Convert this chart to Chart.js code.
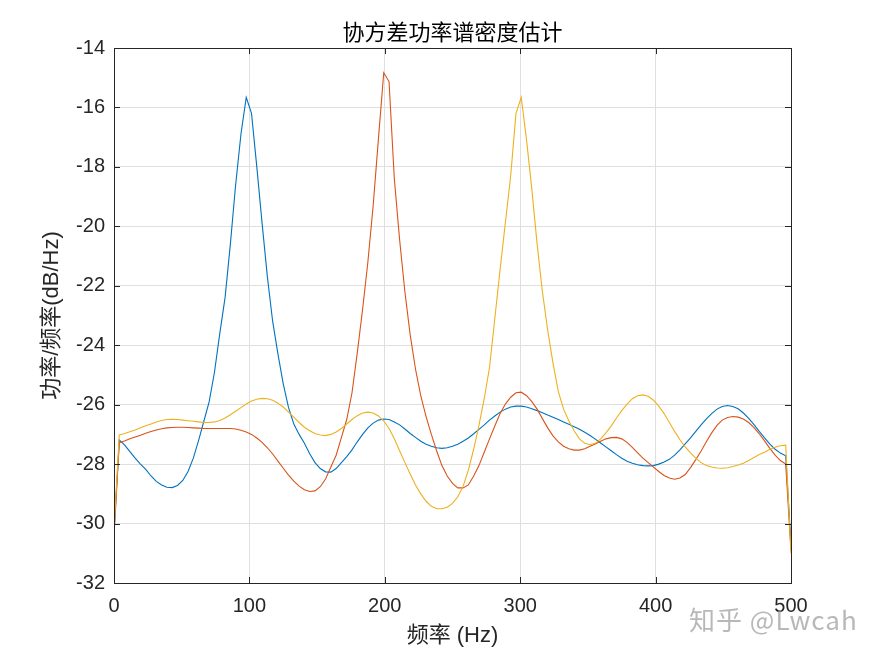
<!DOCTYPE html>
<html>
<head>
<meta charset="utf-8">
<script src="https://cdn.jsdelivr.net/npm/chart.js@4.4.1/dist/chart.umd.min.js"></script>
<style>
  html, body { margin: 0; padding: 0; background: #fff; }
  #wrap { position: relative; width: 875px; height: 656px; }
  #mark {
    position: absolute; left: 689px; top: 600px;
    font: 26px "Noto Sans CJK SC", sans-serif;
    color: rgba(160, 160, 160, 0.75);
    letter-spacing: 1px;
    white-space: nowrap;
  }
</style>
</head>
<body>
<div id="wrap">
  <canvas id="psd" width="875" height="656"></canvas>
  <div id="mark">知乎 @Lwcah</div>
</div>
<script>
// 频率点 (Hz)
const freqs = [
  0, 3.91, 7.81, 11.72, 15.63, 19.53, 23.44, 27.34, 31.25, 35.16,
  39.06, 42.97, 46.88, 50.78, 54.69, 58.59, 62.5, 66.41, 70.31, 74.22,
  78.13, 82.03, 85.94, 89.84, 93.75, 97.66, 101.56, 105.47, 109.38, 113.28,
  117.19, 121.09, 125, 128.91, 132.81, 136.72, 140.63, 144.53, 148.44, 152.34,
  156.25, 160.16, 164.06, 167.97, 171.88, 175.78, 179.69, 183.59, 187.5, 191.41,
  195.31, 199.22, 203.13, 207.03, 210.94, 214.84, 218.75, 222.66, 226.56, 230.47,
  234.38, 238.28, 242.19, 246.09, 250, 253.91, 257.81, 261.72, 265.63, 269.53,
  273.44, 277.34, 281.25, 285.16, 289.06, 292.97, 296.88, 300.78, 304.69, 308.59,
  312.5, 316.41, 320.31, 324.22, 328.13, 332.03, 335.94, 339.84, 343.75, 347.66,
  351.56, 355.47, 359.38, 363.28, 367.19, 371.09, 375, 378.91, 382.81, 386.72,
  390.63, 394.53, 398.44, 402.34, 406.25, 410.16, 414.06, 417.97, 421.88, 425.78,
  429.69, 433.59, 437.5, 441.41, 445.31, 449.22, 453.13, 457.03, 460.94, 464.84,
  468.75, 472.66, 476.56, 480.47, 484.38, 488.28, 492.19, 496.09, 500
];

// 三条功率谱 (dB/Hz)
const psd1 = [
  -30.3, -27.19, -27.35, -27.58, -27.8, -28.0, -28.18, -28.4, -28.58, -28.7,
  -28.78, -28.79, -28.72, -28.55, -28.25, -27.8, -27.2, -26.55, -25.9, -24.9,
  -23.6, -22.4, -20.6, -18.6, -16.9, -15.66, -16.2, -18.0, -19.9, -21.7,
  -23.2, -24.3, -25.3, -26.1, -26.65, -27.0, -27.3, -27.65, -27.95, -28.15,
  -28.26, -28.27, -28.15, -27.95, -27.75, -27.52, -27.25, -27.0, -26.78, -26.62,
  -26.52, -26.48, -26.5, -26.58, -26.68, -26.82, -26.97, -27.1, -27.23, -27.33,
  -27.4, -27.45, -27.47, -27.45, -27.4, -27.33, -27.23, -27.12, -26.98, -26.83,
  -26.68, -26.52, -26.38, -26.25, -26.15, -26.08, -26.05, -26.05, -26.08, -26.14,
  -26.2, -26.27, -26.35, -26.42, -26.5, -26.58, -26.66, -26.74, -26.83, -26.93,
  -27.04, -27.16, -27.29, -27.42, -27.55, -27.68, -27.8, -27.9, -27.97, -28.02,
  -28.05, -28.06, -28.05, -28.0, -27.93, -27.84, -27.7, -27.52, -27.32, -27.12,
  -26.9, -26.68, -26.48, -26.3, -26.15, -26.06, -26.03, -26.06, -26.14, -26.28,
  -26.46, -26.67, -26.9, -27.12, -27.33, -27.5, -27.63, -27.72, -30.7
];
const psd2 = [
  -30.4, -27.28, -27.22, -27.15, -27.09, -27.03, -26.96, -26.9, -26.85, -26.81,
  -26.78, -26.77, -26.76, -26.76, -26.77, -26.78, -26.79, -26.8, -26.8, -26.8,
  -26.8, -26.8, -26.8, -26.82, -26.86, -26.92, -27.0, -27.12, -27.27, -27.45,
  -27.66, -27.9, -28.14, -28.37, -28.57, -28.74, -28.86, -28.92, -28.9, -28.76,
  -28.5, -28.1, -27.7, -27.1, -26.5, -25.6, -24.25, -22.8, -21.2, -19.3,
  -17.05, -14.83, -15.13, -18.4, -20.45, -22.2, -23.65, -24.8, -25.7, -26.4,
  -27.0, -27.55, -28.05, -28.4, -28.65, -28.8, -28.8, -28.7, -28.4, -28.05,
  -27.6, -27.15, -26.72, -26.3, -25.98, -25.75, -25.6, -25.58, -25.7, -25.9,
  -26.15, -26.47, -26.78, -27.05, -27.25, -27.4, -27.48, -27.53, -27.53, -27.48,
  -27.4, -27.32, -27.23, -27.15, -27.11, -27.1, -27.15, -27.27, -27.44, -27.62,
  -27.8, -27.95, -28.1, -28.25, -28.38, -28.47, -28.51, -28.47, -28.35, -28.12,
  -27.85, -27.56, -27.25, -26.95, -26.7, -26.52, -26.43, -26.4, -26.42, -26.48,
  -26.6, -26.77, -26.98, -27.22, -27.47, -27.7, -27.88, -28.0, -30.9
];
const psd3 = [
  -30.2, -27.02, -26.97, -26.91, -26.85, -26.78, -26.71, -26.65, -26.58, -26.53,
  -26.5, -26.49, -26.5, -26.52, -26.54, -26.56, -26.58, -26.6, -26.6, -26.58,
  -26.53, -26.45, -26.34, -26.22, -26.1, -25.98, -25.88, -25.82, -25.79, -25.8,
  -25.85, -25.95, -26.08, -26.25, -26.42, -26.6, -26.76, -26.88, -26.97, -27.02,
  -27.04, -27.0, -26.92, -26.8, -26.65, -26.5, -26.37, -26.28, -26.25, -26.28,
  -26.38, -26.55, -26.8, -27.15, -27.55, -27.95, -28.33, -28.7, -29.0, -29.25,
  -29.42, -29.5, -29.5, -29.45, -29.32, -29.1, -28.75, -28.2, -27.5, -26.7,
  -25.8, -24.75, -23.1, -21.45, -19.87, -18.3, -16.2, -15.66, -17.1, -18.75,
  -20.6, -22.2, -23.5, -24.6, -25.55, -26.15, -26.55, -26.88, -27.15, -27.3,
  -27.35, -27.3, -27.15, -26.95, -26.72, -26.45, -26.2, -25.98, -25.8, -25.7,
  -25.67, -25.72, -25.85, -26.05, -26.3, -26.6, -26.9, -27.18, -27.42, -27.62,
  -27.8, -27.95, -28.05, -28.1, -28.13, -28.14, -28.12, -28.08, -28.03, -27.97,
  -27.88, -27.78, -27.68, -27.6, -27.5, -27.43, -27.38, -27.36, -31.0
];

const xTicks = [0, 100, 200, 300, 400, 500];
const yTicks = [-32, -30, -28, -26, -24, -22, -20, -18, -16, -14];

const titleText = "协方差功率谱密度估计";
const xLabel = "频率 (Hz)";
const yLabel = "功率/频率(dB/Hz)";

const colors = ["#0072BD", "#D95319", "#EDB120"];
const axisColor = "#262626";
const tickFont = { family: "Liberation Sans, Arial, sans-serif", size: 20 };
const labelFont = { family: "Liberation Sans, 'Noto Sans CJK SC', sans-serif", size: 22 };

function serie(vals) {
  return freqs.map((f, i) => ({ x: f, y: vals[i] }));
}

// MATLAB 风格的边框、内向刻度和标题
const matlabBox = {
  id: "matlabBox",
  afterDraw(chart) {
    const { ctx, chartArea: a, scales } = chart;
    ctx.save();
    ctx.strokeStyle = axisColor;
    ctx.lineWidth = 1;
    ctx.beginPath();
    const tl = 6;
    scales.x.ticks.forEach((t, i) => {
      const px = Math.round(scales.x.getPixelForTick(i)) + 0.5;
      ctx.moveTo(px, a.bottom); ctx.lineTo(px, a.bottom - tl);
      ctx.moveTo(px, a.top); ctx.lineTo(px, a.top + tl);
    });
    scales.y.ticks.forEach((t, i) => {
      const py = Math.round(scales.y.getPixelForTick(i)) + 0.5;
      ctx.moveTo(a.left, py); ctx.lineTo(a.left + tl, py);
      ctx.moveTo(a.right, py); ctx.lineTo(a.right - tl, py);
    });
    ctx.stroke();
    ctx.strokeRect(Math.round(a.left) + 0.5, Math.round(a.top) + 0.5,
      Math.round(a.right - a.left), Math.round(a.bottom - a.top));

    ctx.fillStyle = "#000";
    ctx.font = "22px 'Noto Sans CJK SC', sans-serif";
    ctx.textAlign = "center";
    ctx.textBaseline = "middle";
    ctx.fillText(titleText, (a.left + a.right) / 2, 32);
    ctx.restore();
  }
};

new Chart(document.getElementById("psd"), {
  type: "line",
  data: {
    datasets: [
      { data: serie(psd1), borderColor: colors[0], order: 3 },
      { data: serie(psd2), borderColor: colors[1], order: 2 },
      { data: serie(psd3), borderColor: colors[2], order: 1 }
    ]
  },
  options: {
    responsive: false,
    animation: false,
    devicePixelRatio: 1,
    layout: { padding: { left: 0, right: 84, top: 48, bottom: 0 } },
    elements: {
      line: { borderWidth: 1.1, tension: 0, fill: false },
      point: { radius: 0 }
    },
    plugins: {
      legend: { display: false },
      tooltip: { enabled: false },
      title: { display: false }
    },
    scales: {
      x: {
        type: "linear",
        min: 0, max: 500,
        afterBuildTicks: s => { s.ticks = xTicks.map(v => ({ value: v })); },
        afterFit: s => { s.height = 73; },
        grid: { color: "#dfdfdf", drawTicks: false },
        border: { display: false },
        ticks: { color: axisColor, font: tickFont, padding: 11, maxRotation: 0 },
        title: { display: true, text: xLabel, color: axisColor, font: labelFont, padding: { top: 0, bottom: 7 } }
      },
      y: {
        min: -32, max: -14,
        afterBuildTicks: s => { s.ticks = yTicks.map(v => ({ value: v })); },
        afterFit: s => { s.width = 114; },
        grid: { color: "#dfdfdf", drawTicks: false },
        border: { display: false },
        ticks: { color: axisColor, font: tickFont, padding: 9 },
        title: { display: true, text: yLabel, color: axisColor, font: labelFont, padding: { top: 39, bottom: 0 } }
      }
    }
  },
  plugins: [matlabBox]
});
</script>
</body>
</html>
